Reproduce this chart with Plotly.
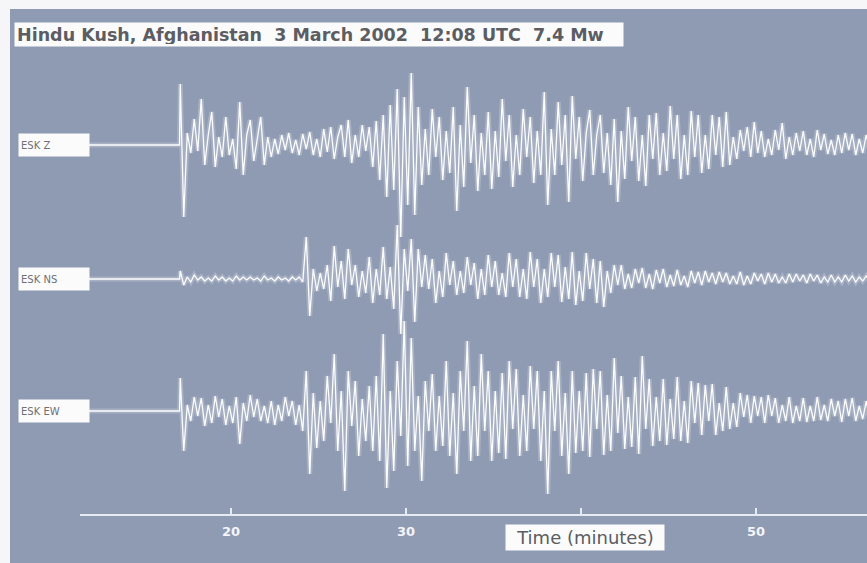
import numpy as np
import plotly.graph_objects as go

# ---------------------------------------------------------------- data
TITLE = "Hindu Kush, Afghanistan  3 March 2002  12:08 UTC  7.4 Mw"
channels = ["ESK Z", "ESK NS", "ESK EW"]

record_start = 11.8   # minutes: first plotted sample of the quiet record
onset = 17.1          # minutes: first sample of the digitised wavetrain
dt = 0.2              # minutes between wavetrain samples

# ground motion, scaled counts (positive = up)
esk_z = [
    61, -72, 12, -8, 26, -6, 46, -20, 10, 33,
    -22, 8, -12, 28, -10, 6, -24, 43, -30, 10,
    25, -16, 6, 28, -20, 8, -12, 6, -9, 10,
    -5, 12, -8, 5, -10, 11, -4, 13, -10, 6,
    -12, 16, -7, 18, -14, 8, 20, -12, 25, -18,
    10, -12, 20, -6, 18, -22, 24, -35, 30, -52,
    40, -45, 56, -92, 48, -60, 72, -70, 38, -40,
    16, -30, 36, -12, 28, -35, 14, -28, 38, -66,
    20, -42, 58, -18, 30, -46, 12, -30, 33, -44,
    14, -32, 46, -16, 30, -42, 10, -30, 36, -12,
    28, -38, 14, -30, 53, -60, 16, -30, 43, -20,
    30, -57, 49, -14, 28, -36, 12, 35, -30, 10,
    30, -28, 12, -40, 26, -57, 14, -34, 38, -16,
    28, -36, 10, -41, 30, -14, 32, -30, 12, -26,
    39, -14, 30, -34, 10, -30, 34, -12, 30, -28,
    10, -24, 30, -10, 28, -22, 33, -20, 8, -14,
    15, -6, 18, -12, 23, -8, 14, -12, 6, -10,
    15, -5, 22, -14, 8, -10, 12, -6, 14, -10,
    6, -12, 15, -5, 11, -9, 5, -10, 10, -8,
    12, -5, 11, -10, 6, -8, 10, -5, 7,
]
esk_ns = [
    8, -6, 2, -3, 4, -1, 2, -2, 1, -2,
    3, -1, 2, -2, 1, -2, 3, -1, 2, -1,
    2, -1, 1, -2, 3, -1, 1, -2, 2, -1,
    1, -2, 2, -1, 2, -3, 42, -37, 10, -12,
    6, -10, 14, -22, 33, -8, 18, -20, 30, -6,
    14, -18, 8, -14, 22, -24, 10, -16, 32, -20,
    12, -30, 54, -55, 30, -12, 40, -43, 30, -8,
    24, -10, 20, -24, 8, -18, 26, -6, 18, -16,
    8, -14, 22, -6, 16, -20, 10, -16, 24, -8,
    18, -16, 6, -18, 26, -8, 20, -18, 10, -20,
    27, -8, 20, -24, 10, -18, 26, -8, 24, -23,
    12, -20, 27, -26, 8, -22, 26, -10, 20, -24,
    18, -28, 8, -14, 14, -6, 14, -10, 5, -9,
    10, -4, 11, -9, 5, -10, 9, -4, 10, -8,
    4, -7, 9, -6, 3, -8, 8, -4, 7, -6,
    8, -3, 6, -5, 7, -3, 6, -5, 3, -5,
    7, -6, 3, -5, 6, -2, 5, -5, 6, -3,
    5, -4, 2, -4, 5, -3, 5, -2, 4, -4,
    5, -2, 4, -4, 2, -3, 4, -3, 2, -3,
    4, -2, 3, -3, 2, -2, 3, -2, 2,
]
esk_ew = [
    33, -40, 6, -10, 14, -5, 13, -15, 6, -12,
    15, -6, 12, -14, 5, -12, 14, -33, 8, -10,
    16, -6, 12, -10, 5, -12, 10, -14, 6, -10,
    14, -5, 10, -14, 6, -20, 40, -63, 18, -37,
    10, -30, 35, -12, 57, -40, 20, -80, 40, -15,
    30, -45, 12, -30, 25, -40, 35, -50, 77, -77,
    20, -60, 50, -25, 90, -55, 73, -40, 15, -70,
    30, -20, 37, -40, 15, -35, 50, -45, 18, -63,
    40, -20, 70, -50, 25, -45, 57, -20, 40, -50,
    20, -42, 38, -48, 50, -18, 42, -45, 16, -40,
    45, -18, 40, -50, 20, -83, 40, -20, 50, -45,
    18, -63, 40, -42, 20, -40, 38, -46, 42, -18,
    40, -44, 16, -40, 53, -22, 35, -38, 14, -36,
    34, -43, 55, -18, 32, -35, 14, -30, 32, -34,
    12, -28, 34, -30, 10, -32, 30, -12, 28, -24,
    26, -10, 27, -24, 8, -20, 24, -18, 8, -16,
    18, -6, 16, -12, 15, -5, 14, -12, 16, -5,
    13, -12, 6, -10, 14, -12, 5, -10, 13, -11,
    5, -10, 14, -9, 6, -10, 12, -5, 10, -11,
    12, -5, 13, -10, 5, -8, 10, -9, 8,
]
amplitudes = [esk_z, esk_ns, esk_ew]

tick_vals = [20, 30, 40, 50]
tick_text = ["20", "30", "", "50"]   # the 40 label sits under the axis title box
axis_title = "Time (minutes)"

# ---------------------------------------------------------------- layout geometry
W, H = 867, 563
ML, MT = 10, 9                      # white frame on the left and top
PLOT_W, PLOT_H = W - ML, H - MT
PX_PER_MIN = 17.5
X_REF_PX, X_REF_MIN = 231, 20       # pixel column of the 20-minute tick


def px_to_min(col):
    return X_REF_MIN + (col - X_REF_PX) / PX_PER_MIN


def fx(col):
    return (col - ML) / PLOT_W


def fy(row):
    return (H - row) / PLOT_H


baselines = [-145, -279, -411]      # trace offsets on the hidden y axis
BG = "#8f9ab3"
TEXT_DARK = "#5b5d63"
BOX = "#fbfbfc"

fig = go.Figure()

for name, amp, base in zip(channels, amplitudes, baselines):
    t = np.concatenate([[record_start, onset - 0.04], onset + dt * np.arange(len(amp))])
    a = np.concatenate([[0, 0], np.asarray(amp, dtype=float)])
    y = base + a
    # soft halo under each trace
    fig.add_trace(go.Scatter(x=t, y=y, mode="lines", hoverinfo="skip", showlegend=False,
                             line=dict(color="rgba(255,255,255,0.22)", width=5)))
    fig.add_trace(go.Scatter(x=t, y=y, mode="lines", name=name, showlegend=False,
                             line=dict(color="rgba(255,255,255,0.97)", width=1.3)))

# time axis lives on its own x axis that starts right of the channel labels
fig.add_trace(go.Scatter(x=[], y=[], xaxis="x2", yaxis="y", showlegend=False, hoverinfo="skip"))

fig.update_layout(
    width=W, height=H,
    margin=dict(l=ML, r=0, t=MT, b=0, pad=0),
    paper_bgcolor="#f6f6f8",
    plot_bgcolor="rgba(0,0,0,0)",
    font=dict(family="DejaVu Sans, Liberation Sans, sans-serif"),
    shapes=[dict(type="rect", xref="paper", yref="paper", x0=0, x1=1, y0=0, y1=1,
                 fillcolor=BG, line=dict(width=0), layer="below")],
    xaxis=dict(domain=[0, 1], range=[px_to_min(ML), px_to_min(W)], visible=False),
    xaxis2=dict(
        domain=[fx(80), 1], range=[px_to_min(80), px_to_min(W)],
        anchor="free", position=fy(515), side="bottom",
        showline=True, linecolor="#e6eaf1", linewidth=2,
        showgrid=False, zeroline=False,
        ticks="inside", ticklen=6, tickwidth=2, tickcolor="#e6eaf1",
        tickvals=tick_vals, ticktext=[f"<b>{s}</b>" if s else "" for s in tick_text],
        tickfont=dict(size=13, color="#f3f5f9"),
        ticklabelstandoff=4,
    ),
    yaxis=dict(range=[-H, -MT], visible=False, fixedrange=True),
    annotations=[
        dict(text=f"<b>{TITLE}</b>", xref="paper", yref="paper", x=fx(14), y=fy(22),
             xanchor="left", yanchor="top", showarrow=False, align="left",
             bgcolor=BOX, width=604, height=19, borderpad=2,
             font=dict(size=17.5, color=TEXT_DARK)),
        *[dict(text=name, xref="paper", yref="paper", x=fx(18), y=fy(-base),
               xanchor="left", yanchor="middle", showarrow=False, align="left",
               bgcolor=BOX, width=66, height=18, borderpad=2,
               font=dict(size=10, color="#6e7076"))
          for name, base in zip(channels, baselines)],
        dict(text=axis_title, xref="paper", yref="paper", x=fx(505), y=fy(537),
             xanchor="left", yanchor="middle", showarrow=False, align="center",
             bgcolor=BOX, width=154, height=21, borderpad=2,
             font=dict(size=18, color=TEXT_DARK)),
    ],
)

fig.write_html("out.html")
